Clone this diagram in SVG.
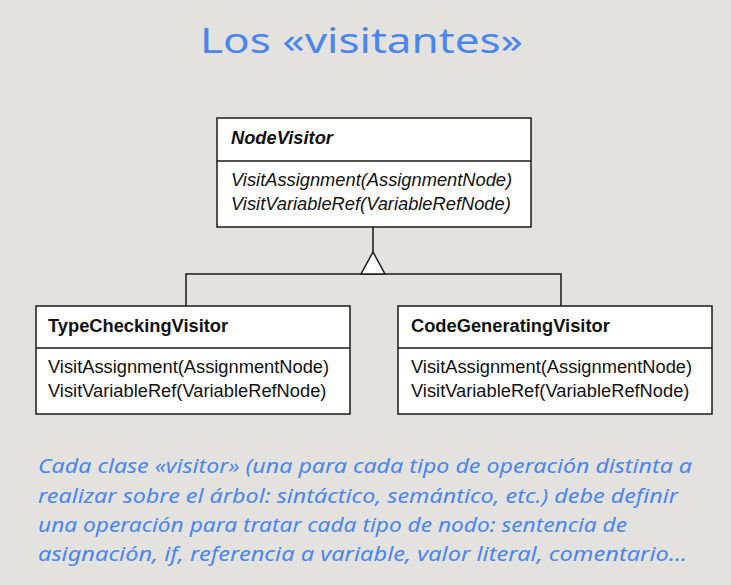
<svg xmlns="http://www.w3.org/2000/svg" width="731" height="585" viewBox="0 0 731 585">
<style>
.box{fill:#ffffff;stroke:#1a1a1a;stroke-width:1.5}
.ln{stroke:#1a1a1a;stroke-width:1.5;fill:none}
.t{font-family:"Liberation Sans",Arial,sans-serif;font-size:18.3px;fill:#111}
.b{font-weight:bold}
.i{font-style:italic}
.hand{font-family:"Noto Sans","DejaVu Sans",sans-serif;fill:#4a86ee}
</style>
<rect x="0" y="0" width="731" height="585" fill="#e3e2df"/>
<text class="hand" x="200" y="53" font-size="34" textLength="323" lengthAdjust="spacingAndGlyphs">Los «visitantes»</text>

<g id="connectors">
<line class="ln" x1="373" y1="227" x2="373" y2="252"/>
<polyline class="ln" points="186,306 186,274 561,274 561,306"/>
<polygon points="373,252 361,274 385,274" fill="#ffffff" stroke="#1a1a1a" stroke-width="1.5"/>
</g>

<g id="NodeVisitor">
<rect class="box" x="217" y="118" width="314" height="109"/>
<line class="ln" x1="217" y1="161" x2="531" y2="161"/>
<text class="t b i" x="231" y="144">NodeVisitor</text>
<text class="t i" x="231" y="186">VisitAssignment(AssignmentNode)</text>
<text class="t i" x="231" y="210">VisitVariableRef(VariableRefNode)</text>
</g>

<g id="TypeCheckingVisitor">
<rect class="box" x="36" y="306" width="314" height="108"/>
<line class="ln" x1="36" y1="348" x2="350" y2="348"/>
<text class="t b" x="48" y="332">TypeCheckingVisitor</text>
<text class="t" x="48" y="373">VisitAssignment(AssignmentNode)</text>
<text class="t" x="48" y="397">VisitVariableRef(VariableRefNode)</text>
</g>

<g id="CodeGeneratingVisitor">
<rect class="box" x="398" y="306" width="314" height="108"/>
<line class="ln" x1="398" y1="348" x2="712" y2="348"/>
<text class="t b" x="411" y="332">CodeGeneratingVisitor</text>
<text class="t" x="411" y="373">VisitAssignment(AssignmentNode)</text>
<text class="t" x="411" y="397">VisitVariableRef(VariableRefNode)</text>
</g>

<g class="hand" font-size="20" font-style="italic">
<text x="38" y="473" textLength="654" lengthAdjust="spacingAndGlyphs">Cada clase «visitor» (una para cada tipo de operación distinta a</text>
<text x="38" y="503" textLength="640" lengthAdjust="spacingAndGlyphs">realizar sobre el árbol: sintáctico, semántico, etc.) debe definir</text>
<text x="38" y="532" textLength="589" lengthAdjust="spacingAndGlyphs">una operación para tratar cada tipo de nodo: sentencia de</text>
<text x="38" y="561" textLength="649" lengthAdjust="spacingAndGlyphs">asignación, if, referencia a variable, valor literal, comentario...</text>
</g>
</svg>
